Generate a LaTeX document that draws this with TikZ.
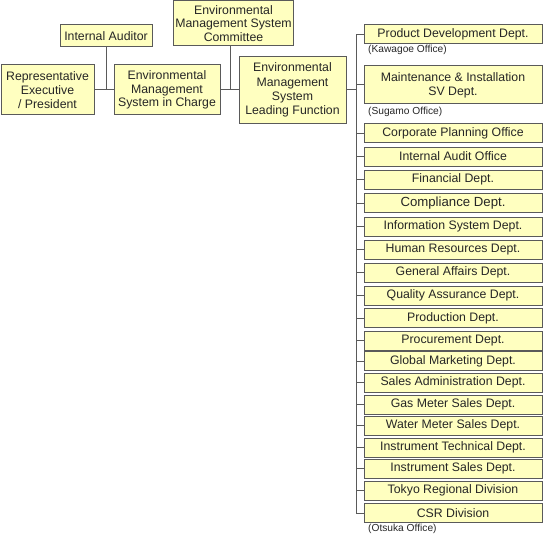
\documentclass[tikz,border=0pt]{standalone}
\usepackage{fontspec}
\setmainfont{Liberation Sans}
\definecolor{boxfill}{HTML}{FFFFC0}
\definecolor{boxline}{HTML}{5A5A5A}
\definecolor{txt}{HTML}{262626}
\begin{document}
\begin{tikzpicture}[x=1pt,y=-1pt,
  box/.style={draw=boxline,fill=boxfill,line width=1pt,inner sep=0pt,align=center,
    text=txt,font=\fontsize{12.3}{13.8}\selectfont},
  dept/.style={box,minimum width=178pt,minimum height=19pt},
  conn/.style={draw=boxline,line width=1pt},
  office/.style={text=txt,font=\fontsize{10.2}{11}\selectfont,inner sep=0pt,anchor=west}]
\useasboundingbox (0,0) rectangle (544,535);
% left part
\node[box,minimum width=93pt,minimum height=50pt] (pres) at (47.5,90) {Representative\\Executive\\/ President};
\node[box,minimum width=92pt,minimum height=22pt] (aud) at (106,36) {Internal Auditor};
\node[box,minimum width=106pt,minimum height=50pt] (emsc) at (167,90) {Environmental\\Management\\System in Charge};
\node[box,minimum width=120pt,minimum height=45pt] (comm) at (233.5,23.5) {Environmental\\Management System\\Committee};
\node[box,minimum width=107pt,minimum height=66pt,font=\fontsize{12.3}{14.2}\selectfont] (lead) at (292.5,90) {Environmental\\Management\\System\\Leading Function};
% right column
\node[dept] (prod) at (453,34.5) {Product Development Dept.};
\node[office] (kaw) at (368,50) {(Kawagoe Office)};
\node[dept,minimum height=38pt] (maint) at (453,85) {Maintenance \& Installation\\SV Dept.};
\node[office] (sug) at (368,112) {(Sugamo Office)};
\node[dept] (d1) at (453,133) {Corporate Planning Office};
\node[dept] (d2) at (453,156.5) {Internal Audit Office};
\node[dept] (d3) at (453,179.5) {Financial Dept.};
\node[dept,font=\fontsize{13.2}{15}\selectfont] (d4) at (453,203) {Compliance Dept.};
\node[dept] (d5) at (453,226.5) {Information System Dept.};
\node[dept] (d6) at (453,249.5) {Human Resources Dept.};
\node[dept] (d7) at (453,272.5) {General Affairs Dept.};
\node[dept] (d8) at (453,295.5) {Quality Assurance Dept.};
\node[dept] (d9) at (453,318) {Production Dept.};
\node[dept] (d10) at (453,340.5) {Procurement Dept.};
\node[dept] (d11) at (453,361) {Global Marketing Dept.};
\node[dept] (d12) at (453,382.5) {Sales Administration Dept.};
\node[dept] (d13) at (453,404.5) {Gas Meter Sales Dept.};
\node[dept] (d14) at (453,425.5) {Water Meter Sales Dept.};
\node[dept] (d15) at (453,447.5) {Instrument Technical Dept.};
\node[dept] (d16) at (453,468.5) {Instrument Sales Dept.};
\node[dept] (d17) at (453,490.5) {Tokyo Regional Division};
\node[dept] (d18) at (453,513) {CSR Division};
\node[office] (ots) at (368,529) {(Otsuka Office)};
% connectors
\coordinate (btop) at (356,34.5);
\coordinate (bbot) at (356,513);
\draw[conn] (pres.east) -- (emsc.west);
\draw[conn] (aud.south) -- (aud.south |- emsc.west);
\draw[conn] (emsc.east) -- (lead.west);
\draw[conn] (comm.south -| 230,0) -- (230,90);
\draw[conn] (lead.east) -- (lead.east -| btop);
\draw[conn] (btop) -- (bbot);
\foreach \n in {prod,maint,d1,d2,d3,d4,d5,d6,d7,d8,d9,d10,d11,d12,d13,d14,d15,d16,d17,d18}
  \draw[conn] (\n.west -| btop) -- (\n.west);
\end{tikzpicture}
\end{document}
